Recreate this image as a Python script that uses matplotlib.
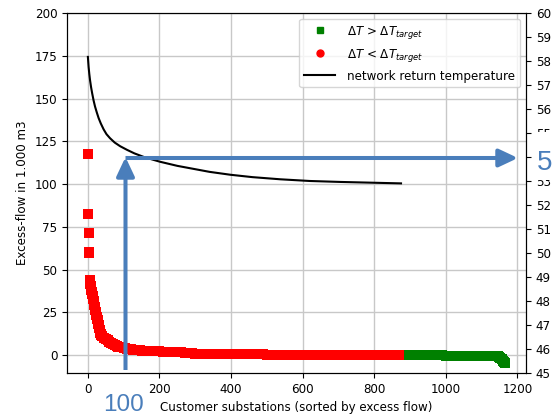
import numpy as np
import matplotlib
matplotlib.use("Agg")
import matplotlib.pyplot as plt
from matplotlib.lines import Line2D
from matplotlib.patches import FancyArrowPatch, Rectangle
from matplotlib.ticker import MultipleLocator

plt.rcParams['font.size'] = 8.6

# sorted excess flow, red part (dT < target)
red_idx = list(range(0, 40)) + list(range(40, 151, 5)) + list(range(160, 871, 10))
red_val = [117.5, 82.5, 71.5, 60.5, 59.5, 44.0, 42.8, 41.6, 40.4, 39.2,
           38.0, 36.9, 35.9, 34.8, 33.7, 32.7, 31.6, 30.5, 29.5, 28.4,
           27.4, 26.3, 25.3, 24.3, 23.3, 22.4, 21.4, 20.4, 19.5, 18.5,
           17.6, 16.6, 15.6, 14.6, 13.8, 13.1, 12.5, 12.0, 11.6, 11.4,
           # 40..150 step 5
           11.2, 10.1, 9.3, 8.7, 8.0, 7.2, 6.4, 5.7, 5.3, 5.0,
           4.7, 4.5, 4.3, 4.1, 3.9, 3.7, 3.5, 3.3, 3.2, 3.0,
           2.9, 2.8, 2.7,
           # 160..870 step 10
           2.6, 2.5, 2.4, 2.3, 2.2, 2.1, 2.0, 1.9, 1.8, 1.7,
           1.6, 1.5, 1.4, 1.3, 0.9, 0.9, 0.9, 0.9, 0.8, 0.8,
           0.8, 0.8, 0.8, 0.8, 0.8, 0.7, 0.7, 0.7, 0.7, 0.7,
           0.7, 0.7, 0.7, 0.7, 0.4, 0.4, 0.4, 0.4, 0.4, 0.3,
           0.3, 0.3, 0.3, 0.3, 0.3, 0.3, 0.3, 0.3, 0.3, 0.3,
           0.3, 0.2, 0.2, 0.2, 0.2, 0.2, 0.2, 0.2, 0.2, 0.2,
           0.2, 0.2, 0.2, 0.2, 0.2, 0.2, 0.2, 0.2, 0.2, 0.2,
           0.2, 0.2]

# green part (dT > target)
green_idx = list(range(880, 1141, 10)) + [1145, 1150, 1153, 1156, 1159, 1162, 1164, 1166]
green_val = [0.1, 0.1, 0.1, 0.1, 0.1, 0.1, 0.1, 0.1, 0.1, 0.1,
             0.1, 0.1, -0.5, -0.5, -0.5, -0.5, -0.5, -0.5, -0.5, -0.5,
             -0.5, -0.5, -0.5, -0.5, -0.5, -0.5, -0.5,
             -0.7, -1.0, -1.6, -2.4, -3.2, -3.8, -4.1, -4.3]

# network return temperature (right axis)
temp_x = [0, 2, 4, 6, 9, 12, 16, 20, 25, 30, 36, 44, 52, 62, 75, 90, 109, 130,
          160, 202, 250, 286, 340, 398, 460, 538, 620, 706, 790, 875]
temp_val = [58.17, 57.75, 57.45, 57.2, 56.9, 56.65, 56.35, 56.1, 55.85, 55.62,
            55.4, 55.15, 54.95, 54.78, 54.6, 54.45, 54.3, 54.15, 53.98, 53.8,
            53.63, 53.53, 53.38, 53.26, 53.16, 53.07, 53.0, 52.96, 52.93, 52.9]

fig = plt.figure(figsize=(5.53, 4.16), dpi=100)
ax = fig.add_axes([0.1212, 0.1034, 0.8300, 0.8654])
ax2 = ax.twinx()

ax.plot(green_idx, green_val, 's', color='green', ms=6.8, mew=0)
ax.plot(red_idx, red_val, 's', color='green', ms=7.1, mew=0)
ax.plot(red_idx, red_val, 's', color='red', ms=6.5, mew=0)
ax2.plot(temp_x, temp_val, color='black', lw=1.5)

ax.set_xlim(-58.3, 1224.3)
ax.set_ylim(-10.4, 200)
ax2.set_ylim(45, 60)
ax2.yaxis.set_major_locator(MultipleLocator(1))
ax.grid(True, color='#c8c8c8', lw=1)
ax.set_axisbelow(True)

ax.set_xlabel('Customer substations (sorted by excess flow)')
ax.set_ylabel('Excess-flow in 1.000 m3')

handles = [Line2D([], [], ls='none', marker='s', color='green', ms=5),
           Line2D([], [], ls='none', marker='o', color='red', ms=5),
           Line2D([], [], color='black', lw=1.5)]
labels = [r'$\Delta T$ > $\Delta T_{target}$', r'$\Delta T$ < $\Delta T_{target}$',
          'network return temperature']
ax2.legend(handles, labels, loc='upper right', handlelength=2.6, handletextpad=1.0)

# blue annotation arrows and numbers
W, H = 553.0, 416.0
blue = '#4a7ebb'
def fp(x, y):
    return (x / W, (H - y) / H)

for a, b in [((125.5, 370), (125.5, 157)), ((125.5, 158), (518, 158))]:
    arr = FancyArrowPatch(fp(*a), fp(*b), transform=fig.transFigure,
                          arrowstyle='-|>,head_length=11.5,head_width=5.4',
                          mutation_scale=1, lw=2.9, color=blue,
                          shrinkA=0, shrinkB=0, capstyle='butt')
    fig.add_artist(arr)

fig.add_artist(Rectangle(fp(532, 180), 30 / W, 48 / H, transform=fig.transFigure,
                         facecolor='white', edgecolor='none'))
fig.text(*fp(103, 411), '100', color=blue, fontsize=17.5, family='Liberation Sans',
         ha='left', va='baseline')
fig.text(*fp(537, 170), '5', color=blue, fontsize=20, family='Liberation Sans',
         ha='left', va='baseline')

fig.savefig('out.png', dpi=100)
